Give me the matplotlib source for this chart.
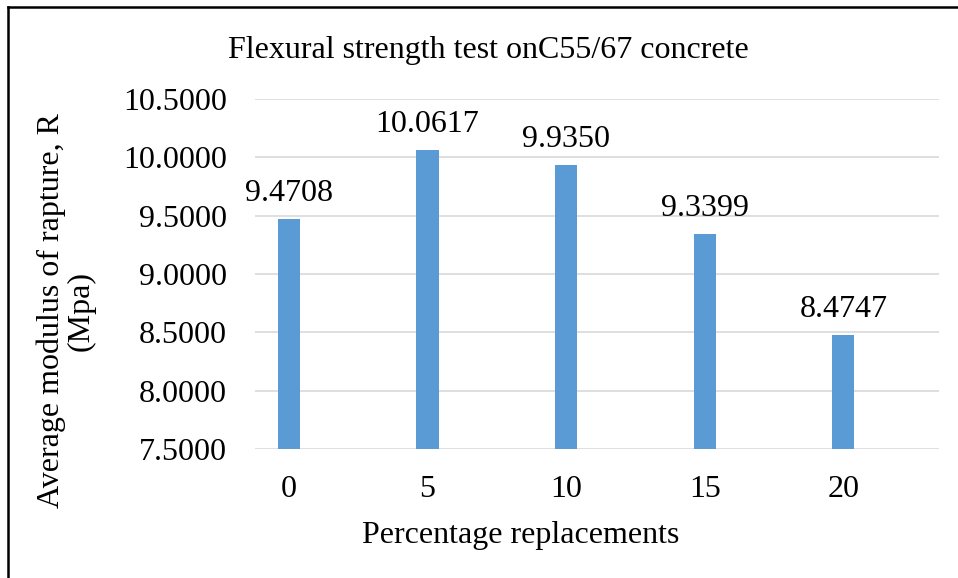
import numpy as np
import matplotlib
matplotlib.use("Agg")
import matplotlib.pyplot as plt
from matplotlib.lines import Line2D

# data
replacements = ['0', '5', '10', '15', '20']
modulus = [9.4708, 10.0617, 9.9350, 9.3399, 8.4747]
yticks = [7.5, 8.0, 8.5, 9.0, 9.5, 10.0, 10.5]

plt.rcParams['font.family'] = ['Liberation Serif', 'DejaVu Serif']
FS = 23

W, H = 958, 578
fig = plt.figure(figsize=(W / 100, H / 100), dpi=100)
ax = fig.add_axes([255 / W, 1 - 449 / H, (939 - 255) / W, (449 - 99) / H])

x = np.arange(len(replacements))
bars = ax.bar(x, modulus, width=0.16, color='#5b9bd5', zorder=3)

for xi, v in zip(x, modulus):
    ax.annotate('%.4f' % v, (xi, v), xytext=(0, 13), textcoords='offset points',
                ha='center', va='baseline', fontsize=FS, color='black')

ax.set_ylim(7.5, 10.5)
ax.set_xlim(-0.245, 4.69)
ax.set_yticks(yticks)
ax.set_yticklabels(['%.4f' % t for t in yticks])
ax.set_xticks(x)
ax.set_xticklabels(replacements)
ax.tick_params(axis='both', length=0, labelsize=FS)
ax.tick_params(axis='y', pad=20)
ax.tick_params(axis='x', pad=19)
ax.grid(axis='y', color='#d9d9d9', linewidth=1.2, zorder=0)
for s in ax.spines.values():
    s.set_visible(False)

fig.text(488 / W, 1 - 58 / H, 'Flexural strength test onC55/67 concrete',
         ha='center', va='baseline', fontsize=FS)
fig.text(521 / W, 1 - 543 / H, 'Percentage replacements',
         ha='center', va='baseline', fontsize=FS)
fig.text(66 / W, 1 - 311 / H, 'Average modulus of rapture, R\n(Mpa)',
         rotation=90, ha='center', va='center', multialignment='center',
         linespacing=1.0, fontsize=FS)

# chart border (only top and left edges are visible)
fig.add_artist(Line2D([8 / W, 1.0], [1 - 7 / H, 1 - 7 / H], color='black', linewidth=1.8))
fig.add_artist(Line2D([8 / W, 8 / W], [0.0, 1 - 7 / H], color='black', linewidth=1.8))

fig.savefig('out.png', dpi=100)
